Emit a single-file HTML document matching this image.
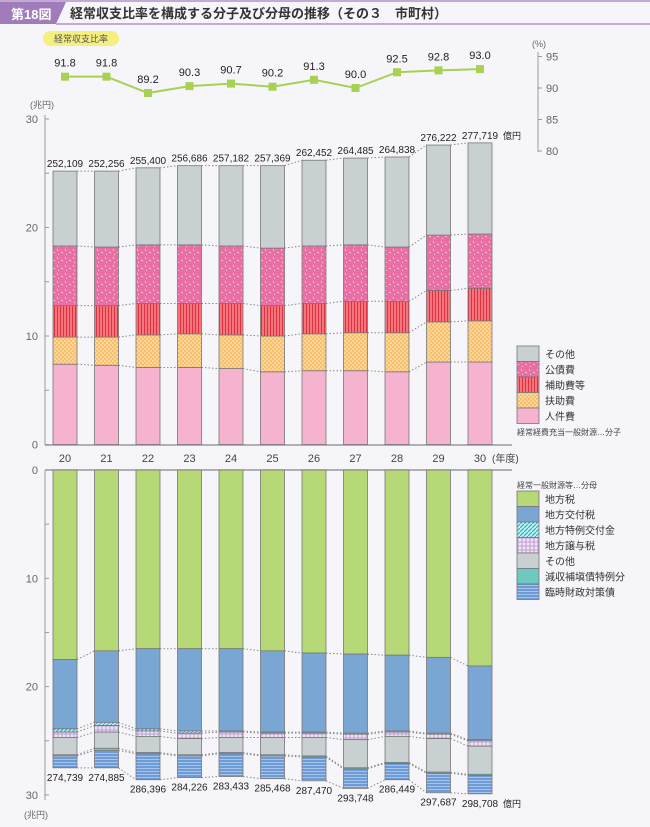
<!DOCTYPE html>
<html><head><meta charset="utf-8"><style>
body{margin:0;background:#f6f6fa;}
svg{display:block;font-family:"Liberation Sans","Noto Sans CJK JP",sans-serif;}
</style></head><body>
<svg id="s" width="650" height="827" viewBox="0 0 650 827" xmlns="http://www.w3.org/2000/svg">
<defs>
<pattern id="pk" width="8" height="8" patternUnits="userSpaceOnUse"><rect width="8" height="8" fill="#ea6da3"/><path d="M1 1l1 2M5 4l2 1M3 6l-1 1" stroke="#fbd3e6" stroke-width="0.8"/></pattern>
<pattern id="rd" width="3" height="3" patternUnits="userSpaceOnUse"><rect width="3" height="3" fill="#f3757e"/><rect width="1" height="3" fill="#e0303d"/></pattern>
<pattern id="or" width="4" height="4" patternUnits="userSpaceOnUse"><rect width="4" height="4" fill="#f8bf6a"/><rect width="2" height="2" fill="#fbd69c"/><rect x="2" y="2" width="2" height="2" fill="#fbd69c"/></pattern>
<pattern id="cy" width="4" height="4" patternUnits="userSpaceOnUse"><rect width="4" height="4" fill="#bfeef2"/><path d="M0 4L4 0" stroke="#2fb5c6" stroke-width="1.2"/></pattern>
<pattern id="pu" width="4" height="4" patternUnits="userSpaceOnUse"><rect width="4" height="4" fill="#efe4f4"/><path d="M0 2H4M2 0V4" stroke="#b48ccc" stroke-width="0.8"/></pattern>
<pattern id="bl" width="3" height="3" patternUnits="userSpaceOnUse"><rect width="3" height="3" fill="#6d9bd6"/><rect width="3" height="1" fill="#a8c4ea"/></pattern>
</defs>
<rect x="0" y="0" width="650" height="2" fill="#c4a8d6"/>
<polygon points="0,2 66,2 56,24 0,24" fill="#a17cbb"/>
<text x="11" y="19" font-size="13" font-weight="bold" fill="#fff">第18図</text>
<text x="70" y="18" font-size="13" font-weight="bold" fill="#333">経常収支比率を構成する分子及び分母の推移（その３　市町村）</text>
<rect x="56" y="23" width="594" height="2" fill="#c4a8d6"/>
<rect x="43" y="31" width="76" height="15" rx="7.5" fill="#f5ef7e"/>
<text x="81" y="42" font-size="9" fill="#555" text-anchor="middle">経常収支比率</text>
<g id="g"></g>
</svg>
<script>
const g=document.getElementById('g');let h='';
const X=i=>65+i*41.5, BW=24;
const YU=v=>444.5-v*10.85, YL=v=>470+v*10.83, YP=v=>88-(v-90)*6.3;
h+=`<line x1="538" y1="52" x2="538" y2="152" stroke="#999"/>`;
[95,90,85,80].forEach(v=>{h+=`<line x1="538" y1="${YP(v)}" x2="542" y2="${YP(v)}" stroke="#999"/><text x="546" y="${YP(v)+4}" font-size="11" fill="#666">${v}</text>`;});
h+=`<text x="532" y="47" font-size="9" fill="#666">(%)</text>`;
const pct=[91.8,91.8,89.2,90.3,90.7,90.2,91.3,90.0,92.5,92.8,93.0];
h+=`<polyline points="${pct.map((v,i)=>X(i)+','+YP(v)).join(' ')}" fill="none" stroke="#a6d154" stroke-width="2"/>`;
pct.forEach((v,i)=>{h+=`<rect x="${X(i)-4}" y="${YP(v)-4}" width="8" height="8" fill="#a6d154"/><text x="${X(i)}" y="${YP(v)-10}" font-size="11" fill="#222" text-anchor="middle">${v.toFixed(1)}</text>`;});
h+=`<text x="30" y="108" font-size="9" fill="#666">(兆円)</text>`;
h+=`<line x1="45" y1="115" x2="45" y2="445" stroke="#999"/><line x1="45" y1="445" x2="512" y2="445" stroke="#999" stroke-width="1.5"/>`;
[0,5,10,15,20,25,30].forEach(v=>{h+=`<line x1="45" y1="${YU(v)}" x2="49" y2="${YU(v)}" stroke="#999"/>`;if(v%10==0)h+=`<text x="38" y="${YU(v)+4}" font-size="11" fill="#666" text-anchor="end">${v}</text>`;});
const U=[[7.4,9.9,12.8,18.3,25.2],[7.3,9.9,12.8,18.2,25.2],[7.1,10.1,13.0,18.4,25.5],[7.1,10.2,13.0,18.4,25.7],[7.0,10.1,13.0,18.3,25.7],[6.7,10.0,12.8,18.1,25.7],[6.8,10.2,13.0,18.3,26.2],[6.8,10.3,13.2,18.4,26.4],[6.7,10.3,13.2,18.2,26.5],[7.6,11.3,14.2,19.3,27.6],[7.6,11.4,14.4,19.4,27.8]];
const UF=['#f5b3cf','url(#or)','url(#rd)','url(#pk)','#c9d0d2'];
const UL=['252,109','252,256','255,400','256,686','257,182','257,369','262,452','264,485','264,838','276,222','277,719'];
U.forEach((b,i)=>{let p=0;b.forEach((v,k)=>{h+=`<rect x="${X(i)-BW/2}" y="${YU(v)}" width="${BW}" height="${YU(p)-YU(v)}" fill="${UF[k]}" stroke="#777" stroke-width="0.8"/>`;p=v;});
 h+=`<text x="${X(i)}" y="${YU(b[4])-4}" font-size="10" fill="#222" text-anchor="middle">${UL[i]}</text>`;
 if(i<10)b.forEach((v,k)=>{h+=`<line x1="${X(i)+BW/2}" y1="${YU(v)}" x2="${X(i+1)-BW/2}" y2="${YU(U[i+1][k])}" stroke="#888" stroke-dasharray="1.5,2"/>`;});});
h+=`<text x="503" y="${YU(27.8)-4}" font-size="9" fill="#222">億円</text>`;
for(let i=0;i<11;i++)h+=`<text x="${X(i)}" y="462" font-size="11" fill="#444" text-anchor="middle">${20+i}</text>`;
h+=`<text x="492" y="462" font-size="10" fill="#444">(年度)</text>`;
['その他','公債費','補助費等','扶助費','人件費'].forEach((t,k)=>{const y=346+k*15.5;h+=`<rect x="517" y="${y}" width="22" height="15.5" fill="${UF[4-k]}" stroke="#777" stroke-width="0.8"/><text x="545" y="${y+12}" font-size="10" fill="#333">${t}</text>`;});
h+=`<text x="517" y="435" font-size="8" fill="#444">経常経費充当一般財源…分子</text>`;
h+=`<line x1="45" y1="470" x2="45" y2="800" stroke="#999"/><line x1="45" y1="470" x2="512" y2="470" stroke="#999" stroke-width="1.5"/>`;
[0,5,10,15,20,25,30].forEach(v=>{h+=`<line x1="45" y1="${YL(v)}" x2="49" y2="${YL(v)}" stroke="#999"/>`;if(v%10==0)h+=`<text x="38" y="${YL(v)+4}" font-size="11" fill="#666" text-anchor="end">${v}</text>`;});
h+=`<text x="24" y="818" font-size="9" fill="#666">(兆円)</text>`;
const L=[[17.5,23.9,24.2,24.7,26.3,26.4,27.5],[16.7,23.3,23.6,24.2,25.7,25.9,27.5],[16.5,23.9,24.1,24.6,26.1,26.2,28.6],[16.5,24.1,24.3,24.8,26.3,26.4,28.4],[16.5,24.1,24.2,24.7,26.1,26.2,28.3],[16.7,24.2,24.3,24.7,26.3,26.4,28.5],[16.9,24.2,24.3,24.7,26.4,26.5,28.7],[17.0,24.3,24.4,24.9,27.5,27.6,29.4],[17.1,24.1,24.2,24.6,27.0,27.1,28.6],[17.3,24.3,24.4,24.8,27.9,28.0,29.8],[18.1,24.9,25.0,25.5,28.1,28.2,29.9]];
const LF=['#b6d877','#7aa6d4','url(#cy)','url(#pu)','#c9d0d2','#6ec9be','url(#bl)'];
const LL=['274,739','274,885','286,396','284,226','283,433','285,468','287,470','293,748','286,449','297,687','298,708'];
L.forEach((b,i)=>{let p=0;b.forEach((v,k)=>{h+=`<rect x="${X(i)-BW/2}" y="${YL(p)}" width="${BW}" height="${YL(v)-YL(p)}" fill="${LF[k]}" stroke="#777" stroke-width="0.8"/>`;p=v;});
 h+=`<text x="${X(i)}" y="${YL(b[6])+13}" font-size="10" fill="#222" text-anchor="middle">${LL[i]}</text>`;
 if(i<10)b.forEach((v,k)=>{h+=`<line x1="${X(i)+BW/2}" y1="${YL(v)}" x2="${X(i+1)-BW/2}" y2="${YL(L[i+1][k])}" stroke="#888" stroke-dasharray="1.5,2"/>`;});});
h+=`<text x="503" y="${YL(29.9)+13}" font-size="9" fill="#222">億円</text>`;
h+=`<text x="517" y="488" font-size="8" fill="#444">経常一般財源等…分母</text>`;
['地方税','地方交付税','地方特例交付金','地方譲与税','その他','減収補塡債特例分','臨時財政対策債'].forEach((t,k)=>{const y=491+k*15.5;h+=`<rect x="517" y="${y}" width="22" height="15.5" fill="${LF[k]}" stroke="#777" stroke-width="0.8"/><text x="545" y="${y+12}" font-size="10" fill="#333">${t}</text>`;});
g.innerHTML=h;
</script>
</body></html>
